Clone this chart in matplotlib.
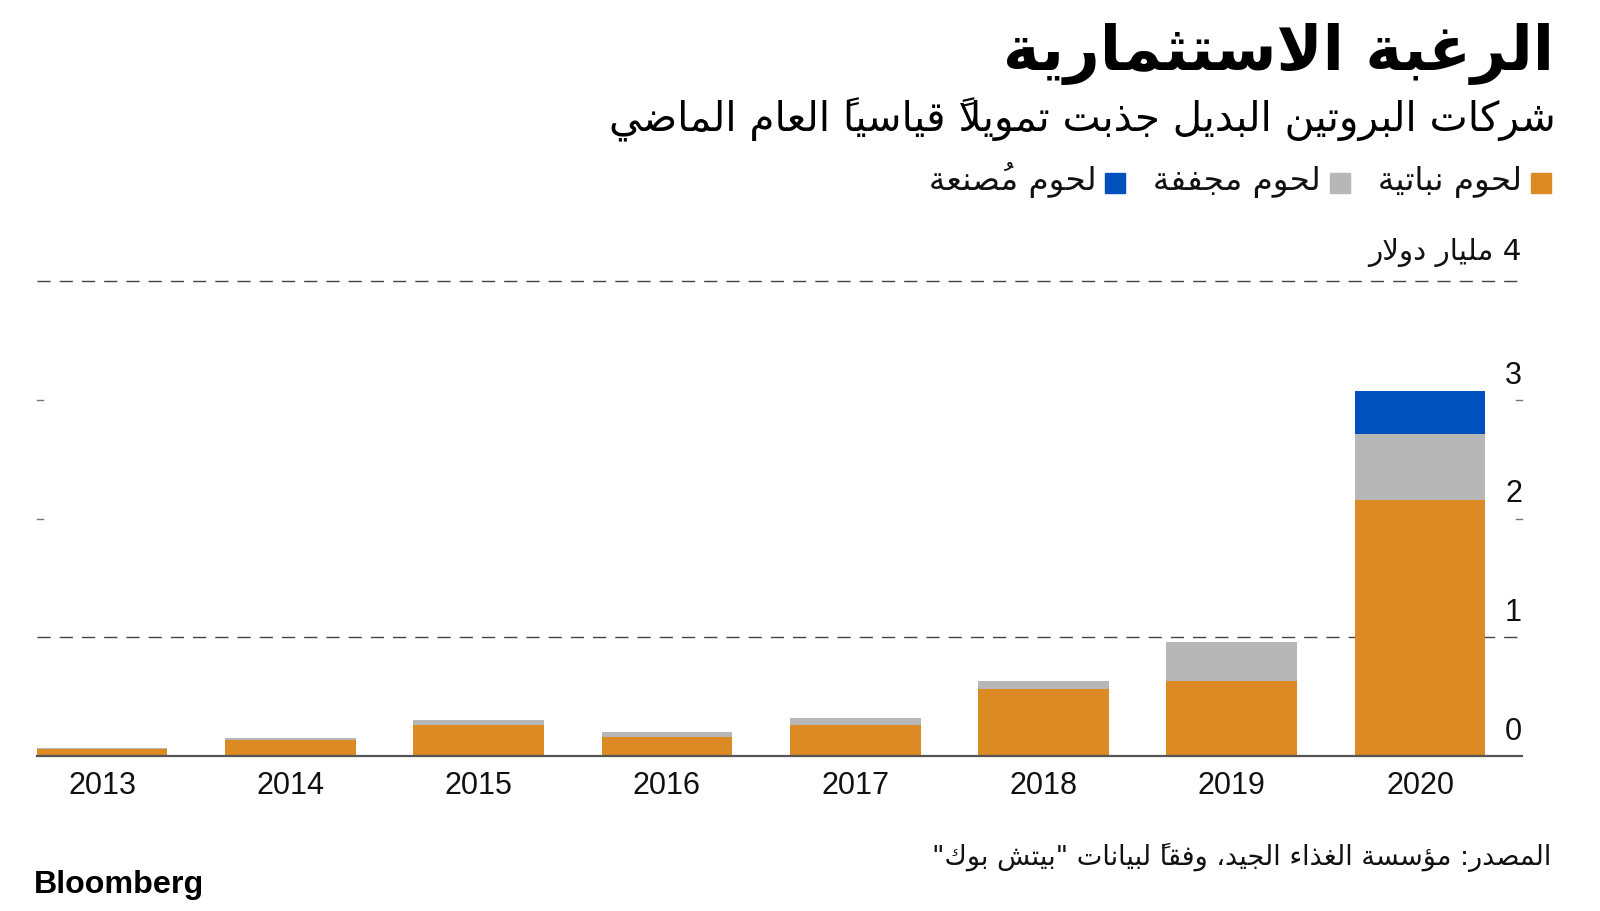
import matplotlib
matplotlib.use('Agg')
import matplotlib.pyplot as plt
from matplotlib.patches import Rectangle

# ---------------- data ----------------
years = ['2013', '2014', '2015', '2016', '2017', '2018', '2019', '2020']
plant_based = [0.056, 0.135, 0.26, 0.156, 0.258, 0.567, 0.633, 2.155]
dried_meat = [0.009, 0.014, 0.043, 0.044, 0.059, 0.066, 0.323, 0.555]
cultivated = [0, 0, 0, 0, 0, 0, 0, 0.36]
y_ticks = [0, 1, 2, 3]
y_top = 4

title = 'الرغبة الاستثمارية'
subtitle = 'شركات البروتين البديل جذبت تمويلاً قياسياً العام الماضي'
legend_labels = ['لحوم نباتية', 'لحوم مجففة', 'لحوم مُصنعة']
unit_label = '4 مليار دولار'
source = 'المصدر: مؤسسة الغذاء الجيد، وفقاً لبيانات "بيتش بوك"'
logo = 'Bloomberg'

colors = ['#DB8A24', '#B7B7B7', '#0050BE']

# ---------------- Arabic shaping (presentation forms) ----------------
_AR = {
    0x0621: (0xFE80, 1), 0x0622: (0xFE81, 2), 0x0623: (0xFE83, 2), 0x0624: (0xFE85, 2),
    0x0625: (0xFE87, 2), 0x0626: (0xFE89, 4), 0x0627: (0xFE8D, 2), 0x0628: (0xFE8F, 4),
    0x0629: (0xFE93, 2), 0x062A: (0xFE95, 4), 0x062B: (0xFE99, 4), 0x062C: (0xFE9D, 4),
    0x062D: (0xFEA1, 4), 0x062E: (0xFEA5, 4), 0x062F: (0xFEA9, 2), 0x0630: (0xFEAB, 2),
    0x0631: (0xFEAD, 2), 0x0632: (0xFEAF, 2), 0x0633: (0xFEB1, 4), 0x0634: (0xFEB5, 4),
    0x0635: (0xFEB9, 4), 0x0636: (0xFEBD, 4), 0x0637: (0xFEC1, 4), 0x0638: (0xFEC5, 4),
    0x0639: (0xFEC9, 4), 0x063A: (0xFECD, 4), 0x0641: (0xFED1, 4), 0x0642: (0xFED5, 4),
    0x0643: (0xFED9, 4), 0x0644: (0xFEDD, 4), 0x0645: (0xFEE1, 4), 0x0646: (0xFEE5, 4),
    0x0647: (0xFEE9, 4), 0x0648: (0xFEED, 2), 0x0649: (0xFEEF, 2), 0x064A: (0xFEF1, 4),
}
_LAMALEF = {0x0622: 0xFEF5, 0x0623: 0xFEF7, 0x0625: 0xFEF9, 0x0627: 0xFEFB}


def _is_mark(c):
    o = ord(c)
    return 0x064B <= o <= 0x0652 or o == 0x0670


def _jtype(b):
    if b.startswith('LA'):
        return 'R'
    if len(b) == 1 and ord(b) in _AR:
        n = _AR[ord(b)][1]
        return 'D' if n == 4 else ('R' if n == 2 else 'U')
    return None


def shape(s):
    clusters = []
    for ch in s:
        if _is_mark(ch) and clusters:
            clusters[-1][1].append(ch)
        else:
            clusters.append([ch, []])
    merged = []
    i = 0
    while i < len(clusters):
        b, m = clusters[i]
        if b == '\u0644' and i + 1 < len(clusters) and len(clusters[i + 1][0]) == 1 \
                and ord(clusters[i + 1][0]) in _LAMALEF:
            merged.append(['LA' + clusters[i + 1][0], m + clusters[i + 1][1]])
            i += 2
        else:
            merged.append([b, m])
            i += 1
    out = []
    for i, (b, m) in enumerate(merged):
        t = _jtype(b)
        pt = _jtype(merged[i - 1][0]) if i > 0 else None
        nt = _jtype(merged[i + 1][0]) if i + 1 < len(merged) else None
        jp = (pt == 'D') and t in ('D', 'R')
        jn = (t == 'D') and nt in ('D', 'R')
        if b.startswith('LA'):
            g = chr(_LAMALEF[ord(b[2])] + (1 if jp else 0))
        elif t in ('D', 'R', 'U'):
            start, n = _AR[ord(b)]
            if jp and jn:
                idx = 3
            elif jp:
                idx = 1
            elif jn:
                idx = 2
            else:
                idx = 0
            if idx >= n:
                idx = 0
            g = chr(start + idx)
        else:
            g = b
        # marks precede their base in visual (left-to-right) order
        out.append(''.join(m) + g)
    return ''.join(reversed(out))


# ---------------- figure ----------------
W, H = 1600, 911
fig = plt.figure(figsize=(W / 100, H / 100), dpi=100)
fig.patch.set_facecolor('white')

AR_FONT = ['DejaVu Sans']
LAT_FONT = ['Liberation Sans', 'DejaVu Sans']

ax_left, ax_right = 36.7, 1522
ax_bottom, ax_top = 756, 281
ax = fig.add_axes([ax_left / W, 1 - ax_bottom / H, (ax_right - ax_left) / W, (ax_bottom - ax_top) / H])

x = list(range(len(years)))
bw = 0.694
ax.bar(x, plant_based, width=bw, color=colors[0], zorder=2)
ax.bar(x, dried_meat, width=bw, bottom=plant_based, color=colors[1], zorder=2)
bottom3 = [a + b for a, b in zip(plant_based, dried_meat)]
ax.bar(x, cultivated, width=bw, bottom=bottom3, color=colors[2], zorder=2)

ax.set_xlim(-0.347, 7.541)
ax.set_ylim(0, y_top)

for s in ['top', 'left', 'right']:
    ax.spines[s].set_visible(False)
ax.spines['bottom'].set_color('#555555')
ax.spines['bottom'].set_linewidth(1.6)
ax.spines['bottom'].set_zorder(3)
ax.set_yticks([])
ax.set_xticks([])

# gridlines: full dashed lines at 1 and 4; small marks at ends for 2, 3
for v in [1, y_top]:
    ax.axhline(v, color='#444444', lw=1.0, dashes=(9.5, 6.5), zorder=1, clip_on=False)
for v in [2, 3]:
    ax.plot([0.0, 0.004], [v, v], transform=ax.get_yaxis_transform(), color='#777777', lw=1.0, clip_on=False)
    ax.plot([0.996, 1.0], [v, v], transform=ax.get_yaxis_transform(), color='#777777', lw=1.0, clip_on=False)

# year labels
for xi, yl in zip(x, years):
    ax.text(xi, -30 / (ax_bottom - ax_top), yl, transform=ax.get_xaxis_transform(),
            ha='center', va='center', fontsize=22, family=LAT_FONT, color='#111111')

# y labels above gridlines, right side
unit = (ax_bottom - ax_top) / y_top
for v in y_ticks:
    ax.text(1.0, v + 24 / unit, str(v), transform=ax.get_yaxis_transform(),
            ha='right', va='center', fontsize=22, family=LAT_FONT, color='#111111')

renderer = fig.canvas.get_renderer()


def fit(t, target_w):
    w = t.get_window_extent(renderer).width
    t.set_fontsize(t.get_fontsize() * target_w / w)
    return t


# unit label (4 billion dollars)
t_unit = fig.text(ax_right / W, 1 - 260 / H, shape(unit_label), ha='right', va='baseline',
                  fontsize=20, family=AR_FONT, color='#111111')
fit(t_unit, 153)

# title & subtitle
t_title = fig.text(1554 / W, 1 - 70 / H, shape(title), ha='right', va='baseline',
                   fontsize=44, family=AR_FONT, fontweight='bold', color='black')
fit(t_title, 551)
t_sub = fig.text(1556 / W, 1 - 131 / H, shape(subtitle), ha='right', va='baseline',
                 fontsize=28, family=AR_FONT, color='black')
fit(t_sub, 948)

# legend (right to left)
sq = 20
xr = 1551
t0 = fig.text(0, 0, shape(legend_labels[0]), fontsize=20, family=AR_FONT)
fit(t0, 143)
leg_fs = t0.get_fontsize()
t0.remove()
for lab, col in zip(legend_labels, colors):
    fig.patches.append(Rectangle(((xr - sq) / W, 1 - 193 / H), sq / W, sq / H,
                                 transform=fig.transFigure, color=col, figure=fig))
    t = fig.text((xr - sq - 9) / W, 1 - 190 / H, shape(lab), ha='right', va='baseline',
                 fontsize=leg_fs, family=AR_FONT, color='#111111')
    w = t.get_window_extent(renderer).width
    xr = xr - sq - 9 - w - 28

# source
t_src = fig.text(1551 / W, 1 - 865 / H, shape(source), ha='right', va='baseline',
                 fontsize=19, family=AR_FONT, color='#111111')
fit(t_src, 620)

# logo
t_logo = fig.text(34 / W, 1 - 893 / H, logo, ha='left', va='baseline', fontsize=22,
                  family=['Liberation Sans Narrow', 'Liberation Sans'], fontweight='bold', color='black')
fit(t_logo, 170)

fig.savefig('out.png', dpi=100, facecolor='white')
